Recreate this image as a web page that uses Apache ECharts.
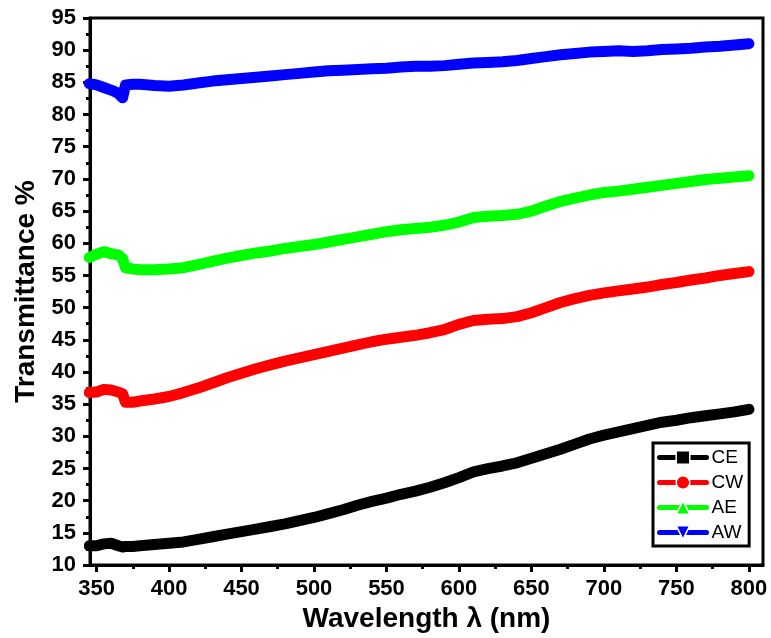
<!DOCTYPE html>
<html><head><meta charset="utf-8">
<script src="https://cdn.jsdelivr.net/npm/echarts@6/dist/echarts.min.js"></script>
<style>html,body{margin:0;padding:0;background:#fff}#c{width:771px;height:638px}</style>
</head><body><div id="c"></div>
<script>
const wavelength = [345,350,355,360,365,368,370,375,380,390,400,410,420,430,440,450,460,470,480,490,500,510,520,530,540,550,560,570,580,590,600,610,620,630,640,650,660,670,680,690,700,710,720,730,740,750,760,770,780,790,800];
const CE = [13.0,13.0,13.3,13.4,13.0,12.8,12.9,12.9,13.0,13.2,13.4,13.6,14.0,14.4,14.8,15.2,15.6,16.0,16.4,16.9,17.4,18.0,18.6,19.3,19.9,20.4,21.0,21.5,22.1,22.8,23.6,24.5,25.0,25.4,25.9,26.6,27.3,28.0,28.8,29.6,30.2,30.7,31.2,31.7,32.2,32.5,32.9,33.2,33.5,33.8,34.2];
const CW = [36.8,36.9,37.3,37.2,36.9,36.6,35.3,35.3,35.5,35.8,36.2,36.8,37.5,38.3,39.1,39.8,40.5,41.1,41.7,42.2,42.7,43.2,43.7,44.2,44.7,45.1,45.4,45.7,46.1,46.6,47.4,48.0,48.2,48.3,48.6,49.2,50.0,50.8,51.4,51.9,52.3,52.6,52.9,53.2,53.6,53.9,54.3,54.6,55.0,55.3,55.6];
const AE = [57.8,58.3,58.7,58.4,58.2,57.6,56.2,56.0,55.9,55.9,56.0,56.2,56.7,57.2,57.7,58.1,58.5,58.8,59.2,59.5,59.8,60.2,60.6,61.0,61.4,61.8,62.1,62.3,62.5,62.8,63.3,64.0,64.2,64.3,64.5,65.0,65.8,66.5,67.0,67.5,67.9,68.1,68.4,68.7,69.0,69.3,69.6,69.9,70.1,70.3,70.5];
const AW = [84.8,84.6,84.2,83.8,83.3,82.6,84.6,84.7,84.7,84.5,84.4,84.6,84.9,85.2,85.4,85.6,85.8,86.0,86.2,86.4,86.6,86.8,86.9,87.0,87.1,87.2,87.4,87.5,87.5,87.6,87.8,88.0,88.1,88.2,88.4,88.7,89.0,89.3,89.5,89.7,89.8,89.9,89.8,89.9,90.1,90.2,90.3,90.5,90.6,90.8,91.0];
const xTickLabels = [350,400,450,500,550,600,650,700,750,800];
const xMinorTicks = [375,425,475,525,575,625,675,725,775];
const seriesNames = ['CE','CW','AE','AW'];
const seriesValues = [CE, CW, AE, AW];
const seriesColors = ['#000000','#ff0000','#00ff00','#0000ff'];
const seriesSymbols = ['rect','circle','triangle','path://M0,0L10,0L5,10Z'];

const FONT = 'Liberation Sans, Arial, sans-serif';
const chart = echarts.init(document.getElementById('c'), null, {renderer:'canvas'});
const series = seriesNames.map((n,i)=>({
  name:n, type:'line',
  data: wavelength.map((w,j)=>[w, seriesValues[i][j]]),
  symbol: seriesSymbols[i], symbolSize: 11, showSymbol:false,
  lineStyle:{color:seriesColors[i], width:11, join:'round', cap:'round'},
  itemStyle:{color:seriesColors[i]},
  emphasis:{disabled:true}, animation:false, z:3
}));
chart.setOption({
  animation:false,
  backgroundColor:'#fff',
  grid:{left:90,right:8,top:18,bottom:69,show:true,borderColor:'#000',borderWidth:3,backgroundColor:'transparent'},
  legend:{
    data:seriesNames, orient:'vertical', left:653, top:443,
    itemWidth:47, itemHeight:17, itemGap:6,
    borderColor:'#000', borderWidth:3, padding:[5,6,4,4],
    backgroundColor:'#fff',
    lineStyle:{width:5},
    itemStyle:{borderColor:'#fff', borderWidth:1.5},
    textStyle:{fontFamily:FONT, fontSize:19, color:'#000'}
  },
  xAxis:[{
    type:'value', min:345.5, max:809.7,
    axisLine:{show:true,onZero:false,lineStyle:{color:'#000',width:3}},
    axisTick:{show:true,length:7,lineStyle:{color:'#000',width:3},customValues:xTickLabels},
    axisLabel:{customValues:xTickLabels,margin:13,color:'#000',fontFamily:FONT,fontWeight:'bold',fontSize:22},
    splitLine:{show:false},
    name:'Wavelength λ (nm)', nameLocation:'middle', nameGap:33,
    nameTextStyle:{fontFamily:FONT,fontWeight:'bold',fontSize:28,color:'#000'}
  },{
    type:'value', min:345.5, max:809.7, position:'bottom',
    axisLine:{show:false},
    axisTick:{show:true,length:4,lineStyle:{color:'#000',width:3},customValues:xMinorTicks},
    axisLabel:{show:false}, splitLine:{show:false}
  }],
  yAxis:{
    type:'value', min:10, max:95, interval:5,
    axisLine:{show:true,onZero:false,lineStyle:{color:'#000',width:3}},
    axisTick:{show:true,length:7,lineStyle:{color:'#000',width:3}},
    minorTick:{show:true,splitNumber:2,length:4,lineStyle:{color:'#000',width:3}},
    axisLabel:{margin:14,color:'#000',fontFamily:FONT,fontWeight:'bold',fontSize:22},
    splitLine:{show:false},
    name:'Transmittance %', nameLocation:'middle', nameGap:50,
    nameTextStyle:{fontFamily:FONT,fontWeight:'bold',fontSize:28,color:'#000'}
  },
  series:series
});
</script></body></html>
